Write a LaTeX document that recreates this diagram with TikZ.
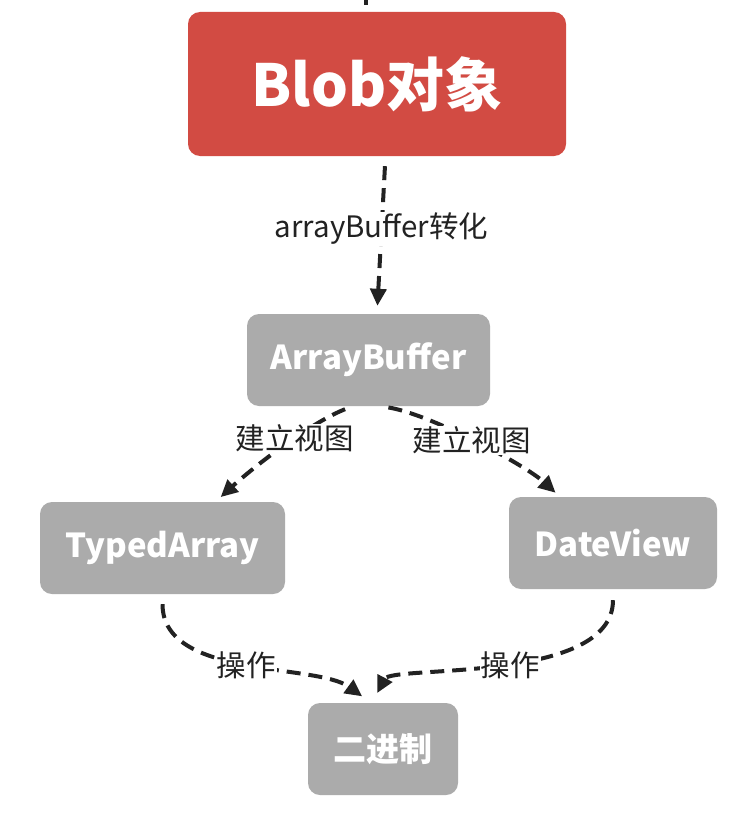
\documentclass[tikz,border=0pt]{standalone}
\usepackage{fontspec}
\setmainfont{Noto Sans CJK SC}
\usetikzlibrary{arrows.meta}
\definecolor{blobred}{HTML}{D24B43}
\definecolor{boxgray}{HTML}{ABABAB}
\definecolor{ink}{HTML}{222222}
\tikzset{
  box/.style={rounded corners=12pt, inner sep=0pt, text=white, font=\bfseries\fontsize{33}{36}\selectfont},
  graybox/.style={box, fill=boxgray},
  conn/.style={draw=ink, line width=4pt, dash pattern=on 14pt off 8pt, -{Triangle[length=17pt,width=16pt]}},
  lbl/.style={fill=white, inner sep=1pt, text=ink, font=\fontsize{29.5}{32}\selectfont},
}
\begin{document}
\begin{tikzpicture}[x=1pt,y=-1pt]
\useasboundingbox (0,0) rectangle (746,816);
\fill[white] (0,0) rectangle (746,816);
\node[box, fill=blobred, minimum width=378pt, minimum height=144pt, font=\bfseries\fontsize{58}{62}\selectfont] (blob) at (377,84) {Blob对象};
\node[graybox, minimum width=243pt, minimum height=92pt] (ab) at (368.5,360) {ArrayBuffer};
\node[graybox, minimum width=245pt, minimum height=92pt] (ta) at (162.5,548) {TypedArray};
\node[graybox, minimum width=208pt, minimum height=92pt] (dv) at (613,543) {DateView};
\node[graybox, minimum width=150pt, minimum height=92pt] (bin) at (383,749) {二进制};
\coordinate (t0) at (366,-2);
\draw[draw=ink, line width=4pt] (t0) -- ++(0,7);
\draw[conn, shorten <=10pt, shorten >=8pt] ([xshift=8.5pt]blob.south) -- node[lbl, pos=0.46]{arrayBuffer转化} ([xshift=8.5pt]ab.north);
\draw[conn, shorten <=8pt, shorten >=7pt] ([xshift=-16pt]ab.south) .. controls +(-45,18) and +(35,-32) .. ([xshift=53pt]ta.north) node[lbl, pos=0.4] {建立视图};
\draw[conn, shorten <=8pt, shorten >=6pt] ([xshift=12pt]ab.south) .. controls +(50,8) and +(-35,-32) .. ([xshift=-53pt]dv.north) node[lbl, pos=0.48] {建立视图};
\draw[conn, shorten <=10pt, shorten >=11pt] (ta.south) .. controls +(0,85) and +(-55,-40) .. ([xshift=-12pt]bin.north) node[lbl, pos=0.5] {操作};
\draw[conn, shorten <=11pt, shorten >=11pt] (dv.south) .. controls +(0,95) and +(20,-38) .. ([xshift=-11pt]bin.north) node[lbl, pos=0.47] {操作};
\end{tikzpicture}
\end{document}
